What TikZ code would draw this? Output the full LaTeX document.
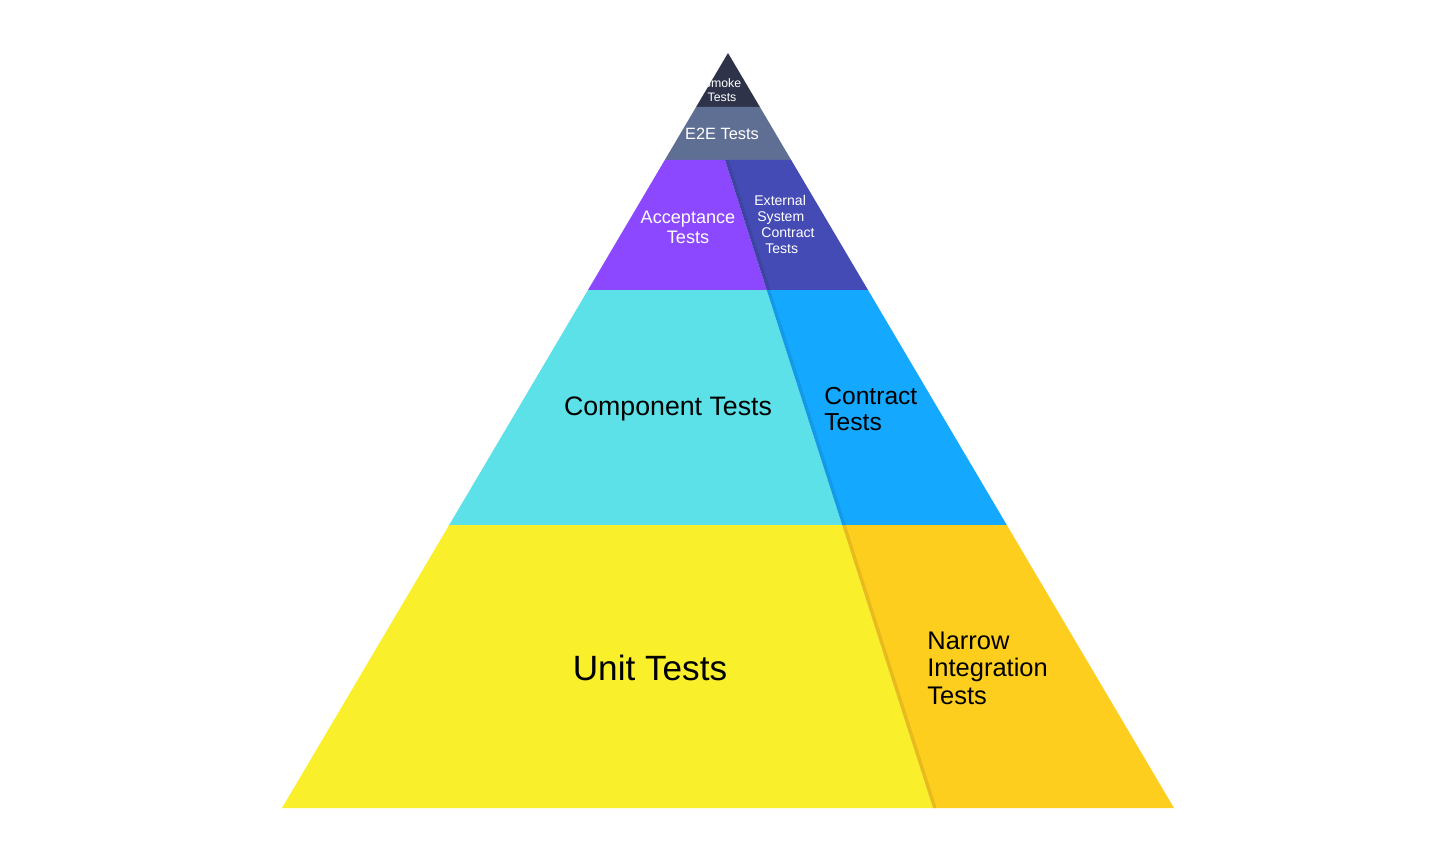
\documentclass[tikz,border=0pt]{standalone}
\usepackage{fontspec}
\setmainfont{Liberation Sans}
\usetikzlibrary{calc, positioning}

\definecolor{smokecol}{HTML}{2E3349}
\definecolor{etoecol}{HTML}{5F6F94}
\definecolor{acceptcol}{HTML}{8C48FE}
\definecolor{extcol}{HTML}{444BB4}
\definecolor{compcol}{HTML}{5CE1E8}
\definecolor{contractcol}{HTML}{14A9FE}
\definecolor{unitcol}{HTML}{F9F02B}
\definecolor{narrowcol}{HTML}{FECE1E}

\begin{document}
\begin{tikzpicture}[
    x=0.2mm, y=-0.2mm,
        divider/.style = {draw=black, draw opacity=0.09, line width=2pt},
        label/.style = {inner sep=0pt, align=center},
        fsize/.style 2 args = {font=\fontsize{#1}{#2}\selectfont}
        ]

    \useasboundingbox (0,0) rectangle (1456,860);

    % corner points of the pyramid
    \coordinate (apex) at (728,53);
    \coordinate (bl)   at (282,808);
    \coordinate (br)   at (1174,808);

    % Layer 1: smoke
    \fill[smokecol] (apex) -- (759.9,107) -- (696.1,107) -- cycle;
    % Layer 2: e2e
    \fill[etoecol] (696.1,107) -- (759.9,107) -- (791.2,160) -- (664.8,160) -- cycle;
    % Layer 3: acceptance / external system
    \fill[acceptcol] (664.8,160) -- (725,160) -- (766.7,290) -- (588,290) -- cycle;
    \fill[extcol] (725,160) -- (791.2,160) -- (868,290) -- (766.7,290) -- cycle;
    % Layer 4: component / contract
    \fill[compcol] (588,290) -- (766.7,290) -- (842.2,525) -- (449.2,525) -- cycle;
    \fill[contractcol] (766.7,290) -- (868,290) -- (1006.8,525) -- (842.2,525) -- cycle;
    % Layer 5: unit / narrow
    \fill[unitcol] (449.2,525) -- (842.2,525) -- (933,808) -- (bl) -- cycle;
    \fill[narrowcol] (842.2,525) -- (1006.8,525) -- (br) -- (933,808) -- cycle;

    % shadow line between the split layers
    \draw[divider] (726.8,160) -- (934.8,808);

    % labels
    \node[label, white, fsize={7}{7.6}] (smoke) at (722,90) {Smoke\\Tests};
    \node[label, white, fsize={9.3}{11}] (e2e) at (722,134) {E2E Tests};
    \node[label, white, fsize={10.3}{11.4}] (accept) at (688,227) {Acceptance\\Tests};
    \node[label, white, fsize={8}{9.1}, align=left, anchor=north west]
        (ext) at (754,195) {External\\\hspace{1.7pt}System\\\hspace{4pt}Contract\\\hspace{6.2pt}Tests};
    \node[label, fsize={15.2}{16}] (comp) at (668,409) {Component Tests};
    \node[label, fsize={14}{14.8}, align=left, anchor=west] (contract) at (824,409) {Contract\\Tests};
    \node[label, fsize={20}{24}] (unit) at (650,668) {Unit Tests};
    \node[label, fsize={14.5}{15.6}, align=left, anchor=west] (narrow) at (927,668) {Narrow\\Integration\\Tests};

\end{tikzpicture}
\end{document}
